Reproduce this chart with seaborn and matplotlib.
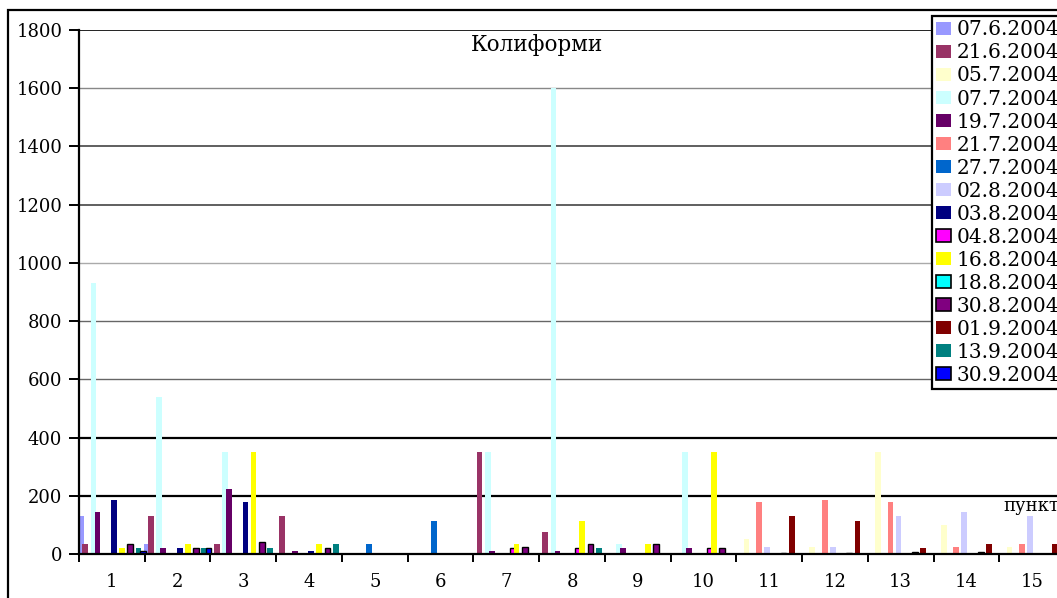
import matplotlib
matplotlib.use("Agg")
import matplotlib.pyplot as plt
import pandas as pd
import seaborn as sns
from matplotlib.patches import Rectangle, Patch

# Sampling points along the river and the survey dates
points = [str(i) for i in range(1, 16)]
dates = ["07.6.2004", "21.6.2004", "05.7.2004", "07.7.2004", "19.7.2004",
         "21.7.2004", "27.7.2004", "02.8.2004", "03.8.2004", "04.8.2004",
         "16.8.2004", "18.8.2004", "30.8.2004", "01.9.2004", "13.9.2004",
         "30.9.2004"]

# Coliform counts per sampling point (points 1..15) for each date
c_0706 = [130, 35, 0, 0, 0, 0, 0, 0, 0, 0, 0, 0, 0, 0, 0]
c_2106 = [35, 130, 35, 130, 0, 0, 350, 75, 0, 0, 0, 0, 0, 0, 0]
c_0507 = [0, 0, 0, 0, 0, 0, 0, 0, 0, 0, 50, 25, 350, 100, 25]
c_0707 = [930, 540, 350, 0, 0, 0, 350, 1600, 35, 350, 0, 0, 0, 0, 0]
c_1907 = [145, 20, 225, 10, 0, 0, 10, 10, 20, 20, 0, 0, 0, 0, 0]
c_2107 = [0, 0, 0, 0, 0, 0, 0, 0, 0, 0, 180, 185, 180, 25, 35]
c_2707 = [0, 0, 0, 0, 35, 115, 0, 0, 0, 0, 0, 0, 0, 0, 0]
c_0208 = [0, 0, 0, 0, 0, 0, 0, 0, 0, 0, 25, 25, 130, 145, 130]
c_0308 = [185, 20, 180, 10, 0, 0, 0, 0, 0, 0, 0, 0, 0, 0, 0]
c_0408 = [0, 0, 0, 0, 0, 0, 20, 20, 0, 20, 0, 0, 0, 0, 0]
c_1608 = [20, 35, 350, 35, 0, 0, 35, 115, 35, 350, 0, 0, 0, 0, 0]
c_1808 = [0, 0, 0, 0, 0, 0, 0, 0, 0, 0, 5, 5, 8, 8, 0]
c_3008 = [35, 20, 42, 20, 0, 0, 25, 35, 35, 20, 0, 0, 0, 0, 0]
c_0109 = [0, 0, 0, 0, 0, 0, 0, 0, 0, 0, 130, 115, 20, 35, 35]
c_1309 = [20, 20, 20, 35, 0, 0, 0, 20, 0, 0, 0, 0, 0, 0, 0]
c_3009 = [10, 20, 0, 0, 0, 0, 0, 0, 0, 0, 0, 0, 0, 0, 0]

series = [c_0706, c_2106, c_0507, c_0707, c_1907, c_2107, c_2707, c_0208,
          c_0308, c_0408, c_1608, c_1808, c_3008, c_0109, c_1309, c_3009]

y_ticks = [0, 200, 400, 600, 800, 1000, 1200, 1400, 1600, 1800]

colors = ["#9999FF", "#993366", "#FFFFCC", "#CCFFFF", "#660066", "#FF8080",
          "#0066CC", "#CCCCFF", "#000080", "#FF00FF", "#FFFF00", "#00FFFF",
          "#800080", "#800000", "#008080", "#0000FF"]
outlined = {"04.8.2004", "18.8.2004", "30.8.2004", "30.9.2004"}

rows = []
for d, vals in zip(dates, series):
    for p, v in zip(points, vals):
        rows.append({"point": p, "date": d, "value": v})
df = pd.DataFrame(rows)

W, H = 1057, 598
fig = plt.figure(figsize=(W / 100, H / 100), dpi=100)
fig.patch.set_facecolor("white")

serif = "DejaVu Serif"

ax = fig.add_axes([79 / W, 44 / H, (1065 - 79) / W, (554 - 30) / H])
sns.barplot(data=df, x="point", y="value", hue="date", order=points,
            hue_order=dates, palette=colors, width=1.0, gap=0,
            saturation=1, errorbar=None, legend=False, ax=ax,
            linewidth=0, zorder=3)

# bars slightly overlap their neighbours within a group
for cont, d in zip(ax.containers, dates):
    for bar in cont:
        w = bar.get_width()
        bar.set_x(bar.get_x() - 0.2 * w)
        bar.set_width(1.4 * w)
        if d in outlined:
            bar.set_edgecolor("black")
            bar.set_linewidth(1.0)

ax.set_xlim(-0.5, len(points) - 0.5)
ax.set_ylim(0, 1800)

# horizontal gridlines
grid_style = {200: ("#000000", 1.6), 400: ("#000000", 1.6), 600: ("#666666", 1.0),
              800: ("#666666", 1.0), 1000: ("#aaaaaa", 1.0), 1200: ("#444444", 1.2),
              1400: ("#444444", 1.2), 1600: ("#888888", 1.0), 1800: ("#222222", 1.4)}
for yv in y_ticks[1:]:
    c, lw = grid_style[yv]
    ax.axhline(yv, color=c, lw=lw, zorder=1)

for s in ["top", "right"]:
    ax.spines[s].set_visible(False)
for s in ["left", "bottom"]:
    ax.spines[s].set_color("black")
    ax.spines[s].set_linewidth(1.6)
    ax.spines[s].set_zorder(4)

ax.set_yticks(y_ticks)
ax.set_yticklabels([str(v) for v in y_ticks], fontfamily=serif, fontsize=13)
ax.tick_params(axis="y", direction="out", length=7.5, width=1.4, pad=4.5,
               colors="black")

ax.set_xticks(range(len(points)))
ax.set_xticklabels(points, fontfamily=serif, fontsize=13)
ax.set_xticks([i - 0.5 for i in range(len(points) + 1)], minor=True)
ax.tick_params(axis="x", which="major", length=0, pad=14)
ax.tick_params(axis="x", which="minor", direction="out", length=5.5, width=1.4)
ax.set_xlabel("")
ax.set_ylabel("")
ax.set_facecolor("white")

fig.text(537 / W, 1 - 45 / H, "Колиформи", ha="center", va="center",
         fontfamily=serif, fontsize=15.5)
fig.text(1003 / W, 1 - 506 / H, "пункт", ha="left", va="center",
         fontfamily=serif, fontsize=13)

handles = [Patch(facecolor=c, edgecolor="black" if d in outlined else c,
                 linewidth=1.2 if d in outlined else 0)
           for c, d in zip(colors, dates)]
leg = fig.legend(handles, dates, loc="upper left",
                 bbox_to_anchor=(932 / W, 1 - 16 / H),
                 bbox_transform=fig.transFigure,
                 prop={"family": serif, "size": 14.5},
                 frameon=True, fancybox=False, framealpha=1,
                 edgecolor="black", borderpad=0.22, labelspacing=0.2,
                 handlelength=0.7, handleheight=0.6, handletextpad=0.3,
                 borderaxespad=0)
leg.get_frame().set_linewidth(1.6)

# outer chart frame
fig.add_artist(Rectangle((8 / W, -0.1), 1.2, 1 - 10 / H + 0.1,
                         transform=fig.transFigure, fill=False,
                         edgecolor="black", linewidth=1.6))

fig.savefig("out.png", dpi=100, facecolor="white")
